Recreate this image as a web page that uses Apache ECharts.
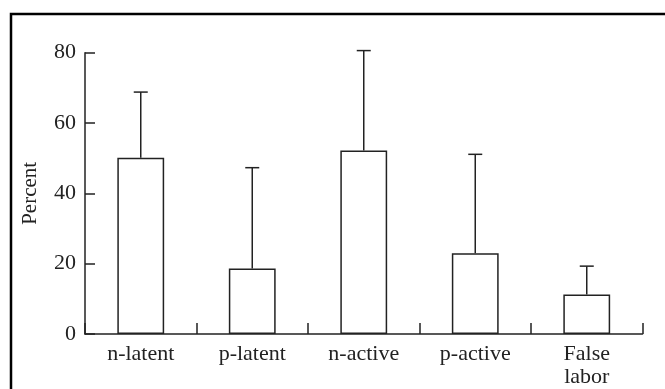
<!DOCTYPE html>
<html>
<head>
<meta charset="utf-8">
<script src="https://cdn.jsdelivr.net/npm/echarts@6/dist/echarts.min.js"></script>
<style>
html,body{margin:0;padding:0;background:#fff;}
#chart{width:665px;height:389px;}
</style>
</head>
<body>
<div id="chart"></div>
<script>
var categories = ['n-latent', 'p-latent', 'n-active', 'p-active', 'False\nlabor'];
var meanValues = [50.1, 18.6, 52.2, 23.0, 11.2];
var upperValues = [68.8, 47.3, 80.6, 51.1, 19.3];
var yTicks = [0, 20, 40, 60, 80];

var FONT = 'Liberation Serif';
var INK = '#222';

var chart = echarts.init(document.getElementById('chart'), null, {renderer: 'canvas'});

var errData = categories.map(function (c, i) { return [i, meanValues[i], upperValues[i]]; });

chart.setOption({
  animation: false,
  backgroundColor: '#fff',
  grid: {left: 85, right: 22.5, top: 52.7, bottom: 53, containLabel: false},
  xAxis: {
    type: 'category',
    data: categories,
    boundaryGap: true,
    axisLine: {show: true, lineStyle: {color: INK, width: 1.5}},
    axisTick: {show: true, inside: true, length: 11, interval: 0, alignWithLabel: false, lineStyle: {color: INK, width: 1.5}},
    axisLabel: {interval: 0, margin: 9, color: INK, fontFamily: FONT, fontSize: 22, lineHeight: 23, verticalAlign: 'top'},
    splitLine: {show: false}
  },
  yAxis: {
    type: 'value',
    min: yTicks[0],
    max: yTicks[yTicks.length - 1],
    interval: yTicks[1] - yTicks[0],
    name: 'Percent',
    nameLocation: 'middle',
    nameGap: 44,
    nameTextStyle: {color: INK, fontFamily: FONT, fontSize: 21},
    axisLine: {show: true, lineStyle: {color: INK, width: 1.5}},
    axisTick: {show: true, inside: true, length: 10, lineStyle: {color: INK, width: 1.5}},
    axisLabel: {margin: 9, color: INK, fontFamily: FONT, fontSize: 22},
    splitLine: {show: false}
  },
  graphic: [{
    type: 'rect',
    shape: {x: 11, y: 14, width: 800, height: 500},
    style: {fill: 'none', stroke: '#000', lineWidth: 2.5},
    z: 100
  }],
  series: [
    {
      type: 'bar',
      data: meanValues,
      barWidth: '42%',
      itemStyle: {color: '#fff', borderColor: INK, borderWidth: 1.5},
      z: 3
    },
    {
      type: 'custom',
      data: errData,
      clip: false,
      z: 4,
      encode: {x: 0, y: [1, 2]},
      renderItem: function (params, api) {
        var x = api.value(0);
        var lo = api.coord([x, api.value(1)]);
        var hi = api.coord([x, api.value(2)]);
        var half = 7;
        var st = {stroke: INK, lineWidth: 1.5, fill: 'none'};
        return {
          type: 'group',
          children: [
            {type: 'line', shape: {x1: lo[0], y1: lo[1], x2: hi[0], y2: hi[1]}, style: st},
            {type: 'line', shape: {x1: hi[0] - half, y1: hi[1], x2: hi[0] + half, y2: hi[1]}, style: st}
          ]
        };
      }
    }
  ]
});
</script>
</body>
</html>
